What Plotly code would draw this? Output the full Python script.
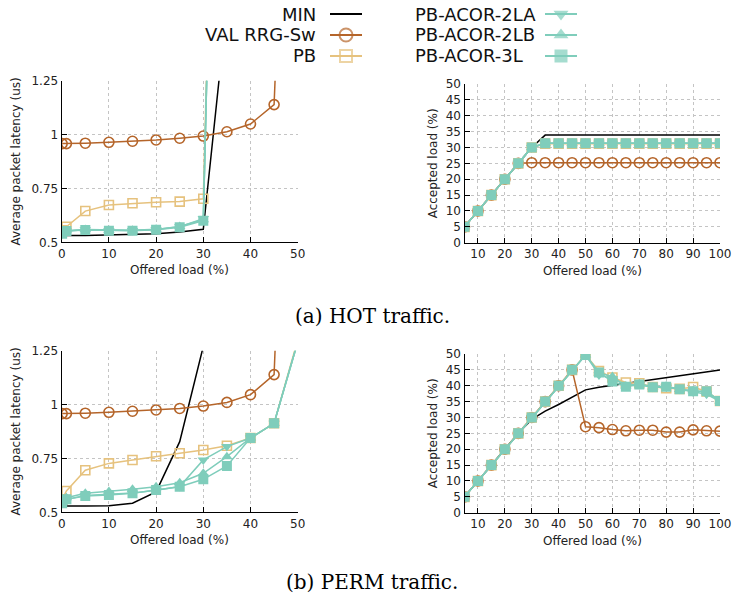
import plotly.graph_objects as go

W, H = 733, 599

# ---------------- data ----------------
lat_x = [0.1, 1, 5, 10, 15, 20, 25, 30, 35, 40, 45, 50]
acc_x = [5, 10, 15, 20, 25, 30, 35, 40, 45, 50, 55, 60, 65, 70, 75, 80, 85, 90, 95, 100]

# HOT latency (us)
hot_lat_min = [0.530, 0.531, 0.532, 0.534, 0.536, 0.540, 0.548, 0.560, 1.60, None, None, None]
hot_lat_val = [0.958, 0.958, 0.960, 0.964, 0.969, 0.975, 0.983, 0.993, 1.013, 1.049, 1.139, 3.9]
hot_lat_pb = [0.556, 0.572, 0.645, 0.673, 0.681, 0.686, 0.689, 0.702, 5.0, None, None, None]
hot_lat_2la = [0.540, 0.553, 0.558, 0.555, 0.555, 0.559, 0.572, 0.610, 5.1, None, None, None]
hot_lat_2lb = [0.541, 0.554, 0.559, 0.556, 0.556, 0.560, 0.573, 0.605, 5.1, None, None, None]
hot_lat_3l = [0.540, 0.552, 0.557, 0.554, 0.554, 0.558, 0.570, 0.600, 5.1, None, None, None]

# HOT accepted load (%)
hot_acc_min = [5, 10, 15, 20, 25, 30, 33.9, 33.9, 33.9, 33.9, 33.9, 33.9, 33.9, 33.9, 33.9, 33.9, 33.9, 33.9, 33.9, 33.9]
hot_acc_val = [5, 10, 15, 20, 25, 25.2, 25.2, 25.2, 25.2, 25.2, 25.2, 25.2, 25.2, 25.2, 25.2, 25.2, 25.2, 25.2, 25.2, 25.2]
hot_acc_pb = [5, 10, 15, 20, 25, 30, 31.2, 31.2, 31.2, 31.2, 31.2, 31.2, 31.2, 31.2, 31.2, 31.2, 31.2, 31.2, 31.2, 31.2]
hot_acc_2la = [5, 10, 15, 20, 25, 30, 31.3, 31.3, 31.3, 31.3, 31.3, 31.3, 31.3, 31.3, 31.3, 31.3, 31.3, 31.3, 31.3, 31.3]
hot_acc_2lb = [5, 10, 15, 20, 25, 30, 31.3, 31.3, 31.3, 31.3, 31.3, 31.3, 31.3, 31.3, 31.3, 31.3, 31.3, 31.3, 31.3, 31.3]
hot_acc_3l = [5, 10, 15, 20, 25, 30, 31.3, 31.3, 31.3, 31.3, 31.3, 31.3, 31.3, 31.3, 31.3, 31.3, 31.3, 31.3, 31.3, 31.3]

# PERM latency (us)
perm_lat_min = [0.528, 0.529, 0.529, 0.530, 0.542, 0.595, 0.828, 1.27, 2.5, None, None, None]
perm_lat_val = [0.958, 0.958, 0.960, 0.964, 0.969, 0.975, 0.982, 0.993, 1.010, 1.046, 1.139, 3.9]
perm_lat_pb = [0.560, 0.599, 0.695, 0.727, 0.743, 0.760, 0.774, 0.789, 0.809, 0.845, 0.913, 1.30]
perm_lat_2la = [0.542, 0.560, 0.578, 0.582, 0.589, 0.602, 0.620, 0.743, 0.805, 0.845, 0.913, 1.29]
perm_lat_2lb = [0.545, 0.568, 0.588, 0.596, 0.607, 0.619, 0.637, 0.681, 0.758, 0.845, 0.913, 1.29]
perm_lat_3l = [0.542, 0.560, 0.576, 0.580, 0.588, 0.603, 0.619, 0.653, 0.715, 0.845, 0.913, 1.29]

# PERM accepted load (%)
perm_acc_min = [5, 10, 15, 20, 25, 29.4, 32.0, 34.1, 36.4, 38.7, 39.5, 40.1, 40.8, 41.4, 42.0, 42.7, 43.3, 43.8, 44.3, 45.0]
perm_acc_val = [5, 10, 15, 20, 25, 30, 35, 40, 45, 27.1, 26.8, 26.2, 25.8, 26.0, 26.0, 25.4, 25.4, 26.1, 25.8, 25.7]
perm_acc_pb = [5, 10, 15, 20, 25, 30, 35, 40, 45, 49.8, 44.6, 42.6, 41.0, 40.8, 39.6, 39.2, 39.0, 39.6, 38.2, 35.2]
perm_acc_2la = [5, 10, 15, 20, 25, 30, 35, 40, 45, 49.7, 43.4, 42.2, 40.2, 40.3, 39.5, 39.6, 38.9, 38.0, 37.3, 35.1]
perm_acc_2lb = [5, 10, 15, 20, 25, 30, 35, 40, 45, 49.7, 44.0, 42.9, 39.9, 40.6, 39.6, 39.9, 38.8, 38.4, 38.0, 35.2]
perm_acc_3l = [5, 10, 15, 20, 25, 30, 35, 40, 45, 49.7, 44.2, 41.3, 39.7, 40.4, 39.5, 39.7, 38.9, 38.3, 38.3, 35.2]

lat_ticks = [0.5, 0.75, 1, 1.25]
lat_ticktext = ["0.5", "0.75", "1", "1.25"]
lat_xticks = [0, 10, 20, 30, 40, 50]
acc_xticks = [10, 20, 30, 40, 50, 60, 70, 80, 90, 100]
acc_yticks = [0, 5, 10, 15, 20, 25, 30, 35, 40, 45, 50]

series_names = ["MIN", "VAL RRG-Sw", "PB", "PB-ACOR-2LA", "PB-ACOR-2LB", "PB-ACOR-3L"]

# ---------------- styles ----------------
BLACK = "#000000"
BROWN = "#b5652a"
TAN = "#e6c27e"
TEAL = "#7fcdbb"
FONT = "DejaVu Sans"

styles = [
    dict(color=BLACK, symbol=None),
    dict(color=BROWN, symbol="circle-open"),
    dict(color=TAN, symbol="square-open"),
    dict(color=TEAL, symbol="triangle-down"),
    dict(color=TEAL, symbol="triangle-up"),
    dict(color=TEAL, symbol="square"),
]
msize = [0, 10, 9, 10, 10, 10]


def add_series(fig, x, ys, xa, ya):
    for i, y in enumerate(ys):
        st = styles[i]
        if st["symbol"] is None:
            mode = "lines"
            marker = None
        else:
            mode = "lines+markers"
            op = st["symbol"].endswith("open")
            marker = dict(symbol=st["symbol"], size=msize[i], color=st["color"],
                          line=dict(width=1.6 if op else 0, color=st["color"]))
        fig.add_trace(go.Scatter(x=x, y=y, mode=mode, name=series_names[i],
                                 line=dict(color=st["color"], width=1.5),
                                 marker=marker, xaxis=xa, yaxis=ya,
                                 showlegend=False, connectgaps=False))


fig = go.Figure()
add_series(fig, lat_x, [hot_lat_min, hot_lat_val, hot_lat_pb, hot_lat_2la, hot_lat_2lb, hot_lat_3l], "x", "y")
add_series(fig, acc_x, [hot_acc_min, hot_acc_val, hot_acc_pb, hot_acc_2la, hot_acc_2lb, hot_acc_3l], "x2", "y2")
add_series(fig, lat_x, [perm_lat_min, perm_lat_val, perm_lat_pb, perm_lat_2la, perm_lat_2lb, perm_lat_3l], "x3", "y3")
add_series(fig, acc_x, [perm_acc_min, perm_acc_val, perm_acc_pb, perm_acc_2la, perm_acc_2lb, perm_acc_3l], "x4", "y4")


def px_x(a, b):
    return [a / W, b / W]


def px_y(top, bottom):
    return [1 - bottom / H, 1 - top / H]


axis_common = dict(showline=True, linecolor="black", linewidth=1.2, ticks="inside",
                   ticklen=5, tickwidth=1, tickcolor="black", showgrid=True,
                   gridcolor="#c4c4c4", griddash="dot", gridwidth=1, zeroline=False,
                   tickfont=dict(family=FONT, size=12, color="#222222"), fixedrange=True)

TL = (61.7, 297.7, 80.7, 242.3)
TR = (464.5, 720.0, 84.0, 242.7)
BL = (61.7, 297.7, 350.7, 512.3)
BR = (464.5, 720.0, 354.0, 512.7)
LEG_H = 72

fig.update_layout(
    width=W, height=H, margin=dict(l=0, r=0, t=0, b=0, autoexpand=False),
    paper_bgcolor="white", plot_bgcolor="rgba(0,0,0,0)", showlegend=False,
    font=dict(family=FONT, size=12, color="#222222"),
    xaxis=dict(domain=px_x(TL[0], TL[1]), range=[0, 50], tickvals=lat_xticks, anchor="y", **axis_common),
    yaxis=dict(domain=px_y(TL[2], TL[3]), range=[0.5, 1.25], tickvals=lat_ticks, ticktext=lat_ticktext, anchor="x", **axis_common),
    xaxis2=dict(domain=px_x(TR[0], TR[1]), range=[5, 100], tickvals=acc_xticks, anchor="y2", **axis_common),
    yaxis2=dict(domain=px_y(TR[2], TR[3]), range=[0, 50], tickvals=acc_yticks, anchor="x2", **axis_common),
    xaxis3=dict(domain=px_x(BL[0], BL[1]), range=[0, 50], tickvals=lat_xticks, anchor="y3", **axis_common),
    yaxis3=dict(domain=px_y(BL[2], BL[3]), range=[0.5, 1.25], tickvals=lat_ticks, ticktext=lat_ticktext, anchor="x3", **axis_common),
    xaxis4=dict(domain=px_x(BR[0], BR[1]), range=[5, 100], tickvals=acc_xticks, anchor="y4", **axis_common),
    yaxis4=dict(domain=px_y(BR[2], BR[3]), range=[0, 50], tickvals=acc_yticks, anchor="x4", **axis_common),
    xaxis5=dict(domain=[0, 1], range=[0, W], visible=False, fixedrange=True, anchor="y5"),
    yaxis5=dict(domain=[1 - LEG_H / H, 1], range=[LEG_H, 0], visible=False, fixedrange=True, anchor="x5"),
)

annotations = []


def ann(text, x, y, size=12, family=FONT, xanchor="center", yanchor="middle", angle=0, color="#222222"):
    annotations.append(dict(text=text, x=x / W, y=1 - y / H, xref="paper", yref="paper",
                            showarrow=False, xanchor=xanchor, yanchor=yanchor, textangle=angle,
                            font=dict(family=family, size=size, color=color)))


# axis titles
for (l, r, t, b) in (TL, BL):
    ann("Offered load (%)", (l + r) / 2, b + 28)
    ann("Average packet latency (us)", 15, (t + b) / 2, angle=-90)
for (l, r, t, b) in (TR, BR):
    ann("Offered load (%)", (l + r) / 2, b + 28)
    ann("Accepted load (%)", 433, (t + b) / 2, angle=-90)

# captions
ann("(a) HOT traffic.", 372, 316, size=20, family="DejaVu Serif", color="black")
ann("(b) PERM traffic.", 372, 582, size=20, family="DejaVu Serif", color="black")

# legend (text left of sample)
rows = [14, 35, 56]
left_col = dict(text_x=318, l0=330, l1=362)
right_col = dict(text_x=413, l0=545, l1=577)
for i, name in enumerate(series_names):
    col = left_col if i < 3 else right_col
    y = rows[i % 3]
    if i < 3:
        ann(name, col["text_x"], y, size=18, xanchor="right", color="#111111")
    else:
        ann(name, col["text_x"], y, size=18, xanchor="left", color="#111111")
    st = styles[i]
    fig.add_trace(go.Scatter(
        x=[col["l0"], (col["l0"] + col["l1"]) / 2, col["l1"]], y=[y, y, y],
        mode="lines" if st["symbol"] is None else "lines+markers",
        line=dict(color=st["color"], width=2),
        marker=None if st["symbol"] is None else dict(
            symbol=st["symbol"], size=[0, msize[i] + 3, 0], color=st["color"],
            line=dict(width=2 if st["symbol"].endswith("open") else 0, color=st["color"])),
        xaxis="x5", yaxis="y5", showlegend=False, hoverinfo="skip", cliponaxis=False))

fig.update_layout(annotations=annotations)
fig.write_html("out.html", config={"displayModeBar": False},
               post_script="document.body.style.margin='0';document.body.style.padding='0';")
